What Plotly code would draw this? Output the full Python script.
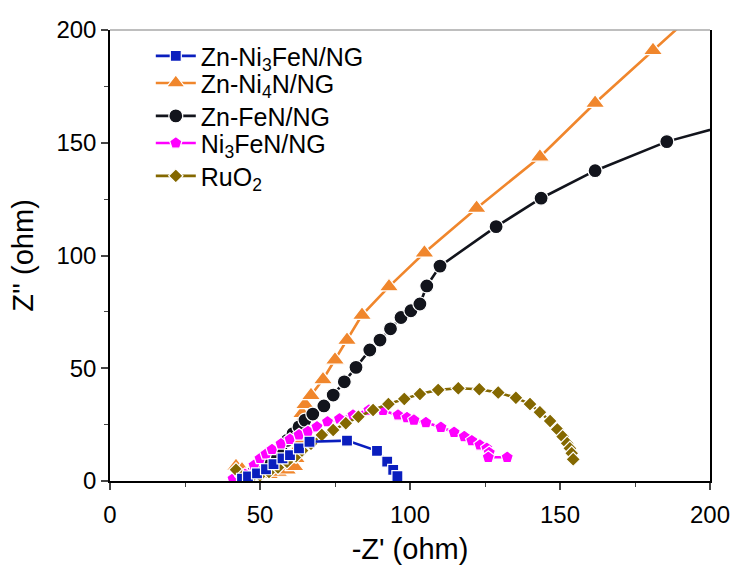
import plotly.graph_objects as go

# Nyquist data, -Z' (ohm) vs Z'' (ohm)
zn_ni3fen_x = [44, 46, 49, 52, 54.5, 57.5, 60, 63, 66.5, 79, 89, 92.4, 94.4, 95.8]
zn_ni3fen_y = [1, 2, 3.4, 5.2, 7.5, 10, 11.5, 14.5, 17.4, 17.9, 13.4, 8.6, 4.9, 2.2]

zn_ni4n_x = [42, 44, 47, 50, 53, 56, 59, 61.5, 62, 62.3, 62.6, 63, 63.5, 64, 65, 67, 71, 75,
             79, 84, 93, 104.8, 122.2, 143.3, 161.7, 181, 201]
zn_ni4n_y = [6.5, 5, 3.5, 3, 3, 4, 5, 6.5, 10, 14, 18, 22, 26, 30, 34, 38, 45, 53.7,
             62.5, 73.6, 86.2, 101.2, 121, 143.7, 167.6, 191, 215]

zn_fen_x = [47, 49, 51, 53, 55, 57, 59, 61, 63, 65, 67.6, 71.3, 74.4, 78.1, 82, 86.6, 90, 93.5,
            97, 100.3, 103.3, 105.6, 110, 128.7, 143.7, 161.7, 185.6, 212]
zn_fen_y = [3, 5, 7, 10, 12.5, 15, 18, 21, 24, 27, 29.7, 33.3, 38.1, 44, 50.4, 58.1, 62.5, 67.5,
            72.5, 75.5, 78.5, 86.5, 95.3, 112.8, 125.4, 137.6, 150.5, 160]

ni3fen_x = [41, 45, 48, 50, 52, 54, 57, 60, 63, 66, 69, 72.5, 76.5, 81, 86.3, 91, 96, 99, 101.3,
            105.3, 110.3, 114.7, 118.1, 120.6, 123.3, 125.6, 126.4, 126.1, 132.4]
ni3fen_y = [1, 3, 7, 10, 12, 14, 16.5, 18.5, 20.5, 22, 24, 26.3, 27.6, 29.3, 31.5, 31.3, 29.3, 28.1, 27,
            25.9, 23.8, 21.6, 19.7, 17.9, 16, 14.5, 12.6, 10.5, 10.5]

ruo2_x = [42, 44, 47, 50, 53, 56, 59, 62, 64, 67, 70.6, 74.4, 78.6, 82.8, 87.7, 92.8, 98.1, 103.3,
          109.4, 116.1, 123.1, 129.4, 135.3, 140, 143.3, 146.7, 149.1, 150.9, 152.4, 153.3, 153.9, 154.4]
ruo2_y = [5, 2, 1.5, 2.5, 4, 6, 8.5, 11, 13.5, 16.5, 20.4, 22.6, 25.6, 28.5, 31.5, 34.1, 36.4, 38.6,
          40.4, 41.1, 40.7, 39.2, 36.9, 34.1, 30.5, 26.6, 22.9, 19.7, 16.7, 14.5, 12.3, 9.6]

x_ticks = [0, 50, 100, 150, 200]
y_ticks = [0, 50, 100, 150, 200]

series = [
    # (name, x, y, colour, symbol, size, legend id) -- drawn bottom to top
    ("Zn-Ni<sub>4</sub>N/NG", zn_ni4n_x, zn_ni4n_y, "#F0862C", "triangle-up", 17, "legend2"),
    ("Zn-FeN/NG", zn_fen_x, zn_fen_y, "#12141C", "circle", 14, "legend3"),
    ("Ni<sub>3</sub>FeN/NG", ni3fen_x, ni3fen_y, "#FF00FF", "pentagon", 13, "legend4"),
    ("RuO<sub>2</sub>", ruo2_x, ruo2_y, "#846800", "diamond", 11, "legend5"),
    ("Zn-Ni<sub>3</sub>FeN/NG", zn_ni3fen_x, zn_ni3fen_y, "#0A1EBE", "square", 11, "legend"),
]

fig = go.Figure()
for name, xs, ys, colour, symbol, size, leg in series:
    fig.add_trace(go.Scatter(
        x=xs, y=ys, name=name, mode="lines+markers",
        line=dict(color=colour, width=2.6),
        marker=dict(symbol=symbol, size=size, color=colour,
                    line=dict(color="white", width=1.2)),
        legend=leg,
    ))

font_family = "Liberation Sans, Arial, sans-serif"

# one legend box per entry so the row spacing can be set directly
legend_rows = {"legend": 0.942, "legend2": 0.882, "legend3": 0.809,
               "legend4": 0.749, "legend5": 0.676}
legend_layout = {
    key: dict(x=0.068, y=yv, xanchor="left", yanchor="middle",
              bgcolor="rgba(0,0,0,0)", font=dict(size=25), itemwidth=40)
    for key, yv in legend_rows.items()
}

fig.update_layout(
    width=738, height=566,
    margin=dict(l=110, r=28, t=30, b=85),
    paper_bgcolor="white", plot_bgcolor="white",
    font=dict(family=font_family, size=24, color="black"),
    showlegend=True,
    xaxis=dict(
        range=[0, 200], tickvals=x_ticks, ticks="outside", ticklen=7, tickwidth=1.5,
        showline=True, linecolor="black", linewidth=1.5, showgrid=False, zeroline=False,
        minor=dict(ticks="outside", ticklen=4, tickwidth=1.2, dtick=25, tick0=0),
        title=dict(text="-Z' (ohm)", standoff=12),
        tickfont=dict(size=24),
        ticklabelstandoff=4,
        automargin=False,
    ),
    yaxis=dict(
        range=[0, 200], tickvals=y_ticks, ticks="outside", ticklen=7, tickwidth=1.5,
        showline=True, linecolor="black", linewidth=1.5, mirror=True,
        showgrid=False, zeroline=False,
        minor=dict(ticks="outside", ticklen=4, tickwidth=1.2, dtick=25, tick0=0),
        title=dict(text="Z'' (ohm)", standoff=14),
        tickfont=dict(size=24),
        automargin=False,
    ),
    shapes=[dict(type="line", xref="paper", yref="paper", x0=0, x1=1, y0=1, y1=1,
                 line=dict(color="#A8A8A8", width=1.5))],
    **legend_layout,
)

fig.write_html("out.html")
